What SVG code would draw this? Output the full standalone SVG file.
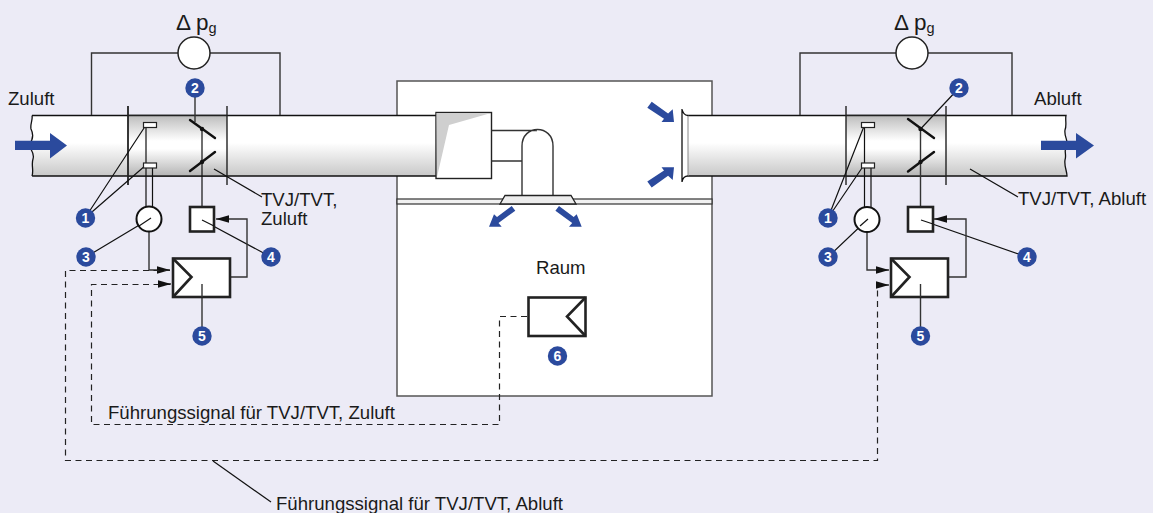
<svg xmlns="http://www.w3.org/2000/svg" width="1153" height="513" viewBox="0 0 1153 513">
<style>
text{font-family:"Liberation Sans",Arial,sans-serif;font-size:18.6px;fill:#1a1a1a}
.l{fill:none;stroke:#333;stroke-width:1.4}
.k{fill:none;stroke:#111;stroke-width:1.2}
.d{fill:none;stroke:#222;stroke-width:1.2;stroke-dasharray:6 4.5}
.t{fill:none;stroke:#111;stroke-width:2.4;stroke-linecap:round}
.w{fill:#fff;stroke:#222;stroke-width:1.5}
.b{fill:#fff;stroke:#222;stroke-width:2.6}
.a{fill:#2b4a9d}
.n circle{fill:#2b4a9d}
.n text{fill:#fff;font-weight:bold;font-size:14px;text-anchor:middle}
.s{fill:#fff;stroke:#222;stroke-width:1.2}
.dp{font-size:22.500px}
.sub{font-size:14.500px}
</style>
<defs>
<linearGradient id="g1" x1="0" y1="0" x2="0" y2="1"><stop offset="0" stop-color="#fff"/><stop offset=".45" stop-color="#fff"/><stop offset="1" stop-color="#c8c8c8"/></linearGradient>
<linearGradient id="g2" x1="0" y1="0" x2="0" y2="1"><stop offset="0" stop-color="#bdbdbd"/><stop offset=".42" stop-color="#fff"/><stop offset=".55" stop-color="#fff"/><stop offset="1" stop-color="#b4b4b4"/></linearGradient>
<marker id="m" markerUnits="userSpaceOnUse" markerWidth="14" markerHeight="10" refX="13" refY="5" orient="auto"><path d="M0 1.2L13 5L0 8.8z" fill="#111"/></marker>
</defs>
<rect width="1153" height="513" fill="#ecebf6"/>
<g id="room">
<rect x="397" y="81" width="315" height="315" fill="#fff" stroke="#555" stroke-width="1.5"/>
<rect x="397" y="199" width="315" height="5" fill="#f1f1f1" stroke="#333" stroke-width="1.2"/>
<text x="536" y="274">Raum</text>
</g>
<g id="supply-duct">
<path d="M32 115.500H436V176H32C34 170 31 165 33 159C35 153 30 149 29 145C33 140 34 135 31 129C30 124 33 120 32 115.500z" fill="url(#g1)" stroke="none"/>
<path d="M32 115.500H436M436 176H32M32 115.500C33 120 30 124 31 129C34 135 33 140 29 145C30 149 35 153 33 159C31 165 34 170 32 176" fill="none" stroke="#111" stroke-width="1.3"/>
<rect x="128" y="115.500" width="99" height="60.500" fill="url(#g2)" stroke="none"/>
<path d="M128 115.500H227M128 176H227" stroke="#222" stroke-width="1.5"/>
<path d="M128 106V185" stroke="#222" stroke-width="1.8"/><path d="M227 106V185" stroke="#222" stroke-width="1.4"/>
</g>
<g id="exhaust-duct">
<path d="M688 115.500H1066C1065 120 1067 125 1065 130C1064 136 1068 140 1067 145C1063 150 1067 154 1065 160C1064 166 1067 171 1067 176H688z" fill="url(#g1)" stroke="none"/>
<path d="M688 115.500H1066C1065 120 1067 125 1065 130C1064 136 1068 140 1067 145C1063 150 1067 154 1065 160C1064 166 1067 171 1067 176H688" fill="none" stroke="#111" stroke-width="1.3"/>
<path d="M688 115.500V176" stroke="#888" stroke-width="1"/>
<rect x="846" y="115.500" width="100" height="60.500" fill="url(#g2)" stroke="none"/>
<path d="M846 115.500H946M846 176H946" stroke="#222" stroke-width="1.5"/>
<path d="M846 106V185M946 106V185" stroke="#222" stroke-width="1.4"/>
</g>
<g id="terminal">
<rect x="436" y="112.500" width="55.500" height="66" fill="#fff" stroke="#222" stroke-width="1.4"/>
<path d="M436.500 113H491L449 125L437 177z" fill="#cfcfcf"/>
<path d="M491.500 130.500H537M491.500 161H522M522 196V146C522 124 553 124 553 146V196" fill="none" stroke="#333" stroke-width="1.4"/>
<path d="M505 195.500H571L576 204H500z" fill="#ececec" stroke="#222" stroke-width="1.3"/>
<path d="M682 109V182M682 109Q683 115 688 115.500M682 182Q683 176 688 176" fill="none" stroke="#111" stroke-width="1.3"/>
</g>
<g id="connectors">
<path class="l" d="M91.500 115V53H280V115"/>
<path class="l" d="M800 115V53H1012V115"/>
<path class="l" d="M195 88V122"/>
<path class="k" d="M85 218L146 125M85 218L146 165M86 257L151 218M271 257L202 220M214 169L262 197"/>
<path class="l" d="M202 336V284"/>
<path class="k" d="M146 125V207M152.500 165V207M202 129V207"/>
<path class="l" d="M149 232V270H170" marker-end="url(#m)"/>
<path class="l" d="M230 277H247V219H216" marker-end="url(#m)"/>
<path class="k" d="M828 218L864.500 125M828 218L864 165M959 88L920.500 129M828 257L868 219M1027 257L921 220M970 169L1018 197"/>
<path class="l" d="M920.500 336V284"/>
<path class="k" d="M864.500 125V207M871 165V207"/>
<path class="l" d="M920.500 129V207"/>
<path class="l" d="M867 232V270H889" marker-end="url(#m)"/>
<path class="l" d="M948 277H966V219H934" marker-end="url(#m)"/>
<path class="d" d="M170 270.500H65.500V460.500H877.500V285"/>
<path class="k" d="M877 285H889" marker-end="url(#m)"/>
<path class="d" d="M170 284.500H91.500V424.500H499.500V316.500H527"/>
<path class="k" d="M158 284H171" marker-end="url(#m)"/>
<path class="k" d="M213 461L271 502"/>
</g>
<g id="flow-arrows">
<path class="a" d="M15 140.700H50V133L67 145.500L50 158.500V150H15z"/>
<path class="a" d="M1041 140.700H1076V133L1094 145.500L1076 158.500V150H1041z"/>
<path class="a" d="M651.700 101.700L668.100 113.600L672.700 109.300L674 122H661.500L664 118.800L647.300 107.700z"/>
<path class="a" d="M651.700 187.600L668.100 175.700L672.700 180L674 167.300H661.500L664 170.500L647.300 181.600z"/>
<path class="a" d="M511.700 206L515.300 210.700L498.500 223L501.700 226.700H489L494 214.300L497 217z"/>
<path class="a" d="M559 206L555.400 210.700L572.200 223L569 226.700H581.700L576.700 214.300L573.700 217z"/>
</g>
<g id="dp-left"><circle class="w" cx="194" cy="53" r="16"/><text class="dp" x="176" y="30">Δ p<tspan class="sub" dy="3">g</tspan></text></g>
<g id="dp-right"><circle class="w" cx="912" cy="53" r="16"/><text class="dp" x="894" y="30">Δ p<tspan class="sub" dy="3">g</tspan></text></g>
<g id="sensors-left"><rect class="s" x="143.500" y="122.500" width="13" height="5"/><rect class="s" x="143.500" y="163" width="13" height="5"/></g>
<g id="sensors-right"><rect class="s" x="861.500" y="122.500" width="13" height="5"/><rect class="s" x="861.500" y="163" width="13" height="5"/></g>
<g id="damper-left"><path class="t" d="M190 120L215 138M190 171L215 152"/><circle cx="202" cy="129" r="2.200" fill="#111"/><circle cx="202" cy="162" r="2.200" fill="#111"/></g>
<g id="damper-right"><path class="t" d="M908 119L934 138M908 171.500L934 152"/><circle cx="920.500" cy="129" r="2.200" fill="#111"/><circle cx="920.500" cy="162" r="2.200" fill="#111"/></g>
<g id="sensor-left"><circle cx="149" cy="219" r="12.500" fill="#fff" stroke="#111" stroke-width="2"/><path class="k" d="M139 226L151 218"/></g>
<g id="sensor-right"><circle cx="867" cy="219.500" r="12.500" fill="#fff" stroke="#111" stroke-width="2"/><path class="k" d="M860 226L868 219"/></g>
<g id="actuator-left"><rect class="b" x="190" y="207" width="24" height="24.500"/><path class="k" d="M202 220L214 226"/></g>
<g id="actuator-right"><rect class="b" x="908" y="207" width="25" height="24.500"/><path class="k" d="M921 220L933 224"/></g>
<g id="controller-left"><rect class="b" x="173" y="258.500" width="57" height="38.500"/><path class="b" style="fill:none" d="M173 258.500L191.500 277L173 297"/><path class="l" d="M202 297V284"/></g>
<g id="controller-right"><rect class="b" x="891" y="258.500" width="57" height="38.500"/><path class="b" style="fill:none" d="M891 258.500L909.500 277L891 297"/><path class="l" d="M920.500 297V284"/></g>
<g id="room-controller"><rect class="b" x="528.500" y="297.500" width="57" height="38.500"/><path class="b" style="fill:none" d="M585.500 297.500L567 316.500L585.500 336"/></g>
<g id="labels">
<text x="8" y="105">Zuluft</text><text x="1034" y="105">Abluft</text>
<text x="261" y="206">TVJ/TVT,</text><text x="261" y="225">Zuluft</text>
<text x="1018" y="205">TVJ/TVT, Abluft</text>
<text x="108" y="419">Führungssignal für TVJ/TVT, Zuluft</text>
<text x="276" y="510">Führungssignal für TVJ/TVT, Abluft</text>
</g>
<g id="badge-1l" class="n"><circle cx="85.500" cy="218" r="9.700"/><text x="85.500" y="223">1</text></g>
<g id="badge-2l" class="n"><circle cx="195" cy="88" r="9.700"/><text x="195" y="93">2</text></g>
<g id="badge-3l" class="n"><circle cx="86" cy="257" r="9.700"/><text x="86" y="262">3</text></g>
<g id="badge-4l" class="n"><circle cx="271" cy="257" r="9.700"/><text x="271" y="262">4</text></g>
<g id="badge-5l" class="n"><circle cx="202" cy="336" r="9.700"/><text x="202" y="341">5</text></g>
<g id="badge-1r" class="n"><circle cx="828" cy="218" r="9.700"/><text x="828" y="223">1</text></g>
<g id="badge-2r" class="n"><circle cx="959" cy="88" r="9.700"/><text x="959" y="93">2</text></g>
<g id="badge-3r" class="n"><circle cx="828" cy="257" r="9.700"/><text x="828" y="262">3</text></g>
<g id="badge-4r" class="n"><circle cx="1027" cy="257" r="9.700"/><text x="1027" y="262">4</text></g>
<g id="badge-5r" class="n"><circle cx="920.500" cy="336" r="9.700"/><text x="920.500" y="341">5</text></g>
<g id="badge-6" class="n"><circle cx="557.500" cy="356" r="9.700"/><text x="557.500" y="361">6</text></g>
</svg>
